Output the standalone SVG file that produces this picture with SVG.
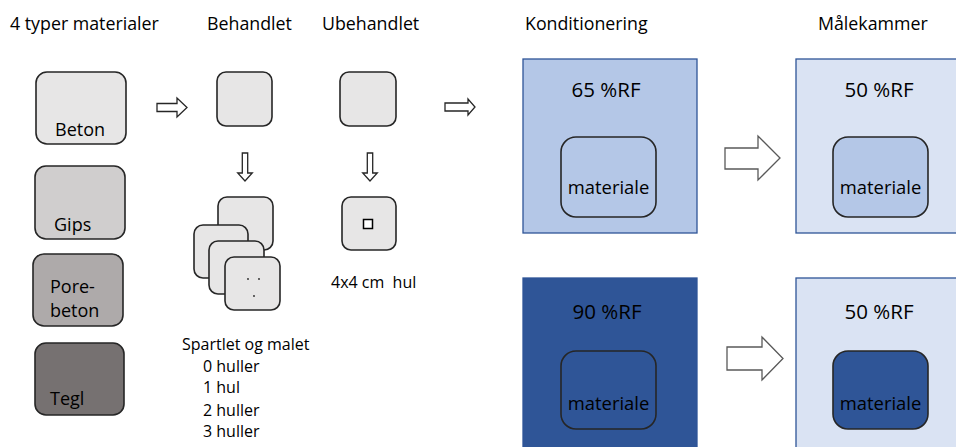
<svg xmlns="http://www.w3.org/2000/svg" width="956" height="447" viewBox="0 0 956 447">
  <style>
    text { font-family: "Open Sans", "Liberation Sans", sans-serif; fill: #000; }
    .h { font-size: 17.8px; }
    .lbl { font-size: 18px; }
    .sm { font-size: 16px; }
    .rf { font-size: 20.5px; text-anchor: middle; }
    .mat { font-size: 18.4px; text-anchor: middle; }
    .box { stroke: #262626; stroke-width: 1.6; }
    .arr { fill: #fff; stroke: #262626; stroke-width: 1.3; stroke-linejoin: miter; }
    .big { fill: #fff; stroke: #595959; stroke-width: 1.3; }
    .room { stroke: #2F5597; stroke-width: 1.3; }
  </style>

  <g id="headers">
    <text class="h" x="10" y="30">4 typer materialer</text>
    <text class="h" x="207" y="30">Behandlet</text>
    <text class="h" x="322" y="30">Ubehandlet</text>
    <text class="h" x="525" y="30">Konditionering</text>
    <text class="h" x="818" y="30">Målekammer</text>
  </g>

  <g id="beton">
    <rect class="box" x="36" y="72" width="90" height="72" rx="11" fill="#E7E6E6"/>
    <text class="lbl" x="55" y="136">Beton</text>
  </g>
  <g id="gips">
    <rect class="box" x="35" y="166" width="90" height="73" rx="11" fill="#D0CECE"/>
    <text class="lbl" x="54" y="231">Gips</text>
  </g>
  <g id="porebeton">
    <rect class="box" x="33" y="254" width="90" height="72" rx="11" fill="#AEAAAA"/>
    <text class="lbl" x="50" y="293">Pore-</text>
    <text class="lbl" x="50" y="317">beton</text>
  </g>
  <g id="tegl">
    <rect class="box" x="35" y="343" width="89" height="72" rx="11" fill="#767171"/>
    <text class="lbl" x="50" y="405">Tegl</text>
  </g>

  <g id="behandlet">
    <rect class="box" x="217" y="72" width="55" height="54" rx="9" fill="#E7E6E6"/>
  </g>
  <g id="ubehandlet">
    <rect class="box" x="340" y="72" width="56" height="54" rx="9" fill="#E7E6E6"/>
  </g>

  <g id="stack">
    <rect class="box" x="218" y="197" width="55" height="53" rx="9" fill="#E7E6E6"/>
    <rect class="box" x="194" y="225" width="54" height="53" rx="9" fill="#E7E6E6"/>
    <rect class="box" x="209" y="241" width="55" height="53" rx="9" fill="#E7E6E6"/>
    <rect class="box" x="225" y="257" width="55" height="53" rx="9" fill="#E7E6E6"/>
    <circle cx="248" cy="279" r="0.9" fill="#262626"/>
    <circle cx="259" cy="279" r="0.9" fill="#262626"/>
    <circle cx="254" cy="296" r="0.9" fill="#262626"/>
  </g>
  <g id="stack-label">
    <text class="sm" x="182" y="350">Spartlet og malet</text>
    <text class="sm" x="203" y="372">0 huller</text>
    <text class="sm" x="203" y="393">1 hul</text>
    <text class="sm" x="203" y="416">2 huller</text>
    <text class="sm" x="203" y="437">3 huller</text>
  </g>

  <g id="hul">
    <rect class="box" x="342" y="197" width="54" height="53" rx="9" fill="#E7E6E6"/>
    <rect x="363.5" y="219.5" width="9" height="9" fill="#fff" stroke="#000" stroke-width="1.5"/>
    <text class="sm" x="331" y="288" xml:space="preserve" style="white-space:pre">4x4 cm  hul</text>
  </g>

  <g id="k65">
    <rect class="room" x="523" y="59" width="174" height="174" fill="#B4C7E7"/>
    <text class="rf" x="606" y="97">65 %RF</text>
    <rect class="box" x="561" y="137" width="95" height="80" rx="15" fill="#B4C7E7"/>
    <text class="mat" x="608.5" y="194">materiale</text>
  </g>
  <g id="m50a">
    <rect class="room" x="796" y="59" width="170" height="174" fill="#DAE3F3"/>
    <text class="rf" x="879" y="97">50 %RF</text>
    <rect class="box" x="833" y="137" width="95" height="80" rx="15" fill="#B4C7E7"/>
    <text class="mat" x="880.5" y="194">materiale</text>
  </g>
  <g id="k90">
    <rect class="room" x="523" y="278" width="174" height="180" fill="#2F5597"/>
    <text class="rf" x="607" y="319">90 %RF</text>
    <rect class="box" x="561" y="351" width="95" height="78" rx="15" fill="#2F5597"/>
    <text class="mat" x="608.5" y="410">materiale</text>
  </g>
  <g id="m50b">
    <rect class="room" x="796" y="278" width="170" height="180" fill="#DAE3F3"/>
    <text class="rf" x="879" y="319">50 %RF</text>
    <rect class="box" x="833" y="351" width="95" height="78" rx="15" fill="#2F5597"/>
    <text class="mat" x="880.5" y="410">materiale</text>
  </g>

  <g id="connectors">
    <path class="arr" d="M157,103.5 H177 V98 L187,107.5 L177,117 V111.5 H157 Z"/>
    <path class="arr" d="M445,103 H468 V99 L475,107 L468,115 V111 H445 Z"/>
    <path class="arr" d="M242.3,153 V173 H237.7 L245,181 L252.3,173 H247.7 V153 Z"/>
    <path class="arr" d="M367.3,153 V173 H362.7 L370,181 L377.3,173 H372.7 V153 Z"/>
    <path class="big" d="M725,148 H758 V136 L780,158 L758,180 V169 H725 Z"/>
    <path class="big" d="M727,347 H762 V337 L783,358.5 L762,380 V370 H727 Z"/>
  </g>
</svg>
